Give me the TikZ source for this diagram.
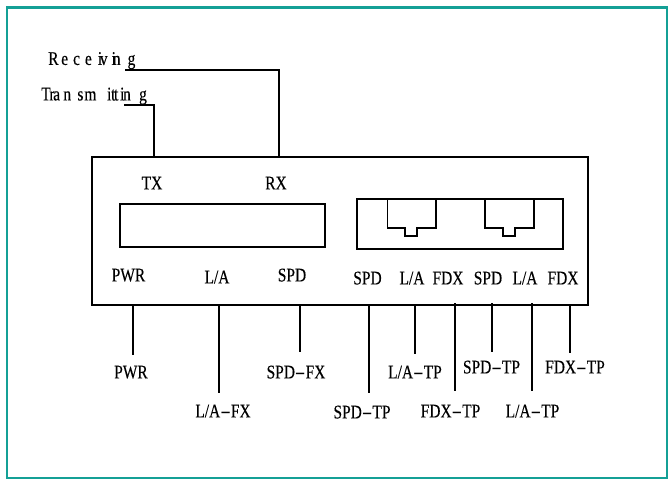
\documentclass[tikz,border=0pt]{standalone}
\usepackage{fontspec}
\setmainfont{Liberation Serif}[FakeStretch=0.8,FakeBold=0.25]
\newfontfamily\hyfont{Liberation Serif}[FakeStretch=1.65]
\newcommand{\hy}{{\hyfont-}}
\definecolor{frameteal}{RGB}{20,160,150}
\tikzset{
  ln/.style={line width=1.3pt,line join=miter},
  bx/.style={draw,ln,anchor=north west,inner sep=0pt,outer sep=0pt},
  lab/.style={inner sep=0pt,font=\fontsize{14.5}{15}\selectfont,text=black,text height=9.6pt,text depth=0pt},
}
\begin{document}
\begin{tikzpicture}[x=0.75pt,y=-0.75pt]
\useasboundingbox (0,0) rectangle (668,480);
\fill[white] (0,0) rectangle (668,480);
\draw[line width=1.7pt,color=frameteal] (7,7.5) rectangle (667,478);
% main box
\node[bx,minimum width=372pt,minimum height=111pt] (dev) at (92,157) {};
\node[bx,minimum width=153.75pt,minimum height=32.25pt] (fx) at (120,204) {};
\node[bx,minimum width=154.5pt,minimum height=37.5pt] (tp) at (357,199) {};
% RJ45
\draw[ln] (387.5,199) -- (387.5,228) -- (405,228) -- (405,236) -- (417,236) -- (417,228) -- (436,228) -- (436,199);
\draw[ln] (485,199) -- (485,228) -- (503,228) -- (503,236) -- (515,236) -- (515,228) -- (534,228) -- (534,199);
% labels top
\node[lab] (tx) at (152,183) {TX};
\node[lab] (rx) at (276,183) {RX};
\node[lab,anchor=west] (rec) at (48,58.5) {R\kern2pt e\kern3.75pt c\kern3.75pt e\kern4.5pt i\kern-1.7pt v\kern3pt i\kern-2.3pt n\kern5.3pt g};
\node[lab,anchor=west] (trans) at (41,94) {T\kern-1pt r\kern-1pt a\kern2.5pt n\kern4.7pt s\kern.75pt m\kern8pt i\kern-.2pt t\kern-1pt t\kern1.3pt i\kern-1pt n\kern6.2pt g};
\coordinate (recEnd) at (125,70);
\coordinate (trEnd) at (124,105);
\draw[ln] (recEnd) -- (279,70) -- (279,157);
\draw[ln] (trEnd) -- (154,105) -- (154,157);
% labels in box
\node[lab] (pwr) at (128.5,275) {PWR};
\node[lab] (la1) at (217,277) {L/A};
\node[lab] (spd1) at (292,275) {SPD};
\node[lab] (s2) at (367.5,278) {SPD};
\node[lab] (l2) at (412,278) {L/A};
\node[lab] (f2) at (448,278) {FDX};
\node[lab] (s3) at (488,278) {SPD};
\node[lab] (l3) at (525,278) {L/A};
\node[lab] (f3) at (563,278) {FDX};
% outside labels
\node[lab] (oPWR) at (131,372) {PWR};
\node[lab] (oLA) at (223,411) {L/A\hy FX};
\node[lab] (oSPD) at (296,372) {SPD\hy FX};
\node[lab] (a) at (362,412) {SPD\hy TP};
\node[lab] (b) at (415,372) {L/A\hy TP};
\node[lab] (c) at (450.5,411) {FDX\hy TP};
\node[lab] (d) at (491.5,367) {SPD\hy TP};
\node[lab] (e) at (532.5,411) {L/A\hy TP};
\node[lab] (g) at (575,367) {FDX\hy TP};
% connectors
\coordinate (d1) at (133,305); \coordinate (e1) at (133,355);
\coordinate (d2) at (219,305); \coordinate (e2) at (219,393);
\coordinate (d3) at (300,305); \coordinate (e3) at (300,352);
\coordinate (d4) at (369,305); \coordinate (e4) at (369,393);
\coordinate (d5) at (415,305); \coordinate (e5) at (415,354);
\coordinate (d6) at (455,303); \coordinate (e6) at (455,391);
\coordinate (d7) at (492,303); \coordinate (e7) at (492,352);
\coordinate (d8) at (532,303); \coordinate (e8) at (532,391);
\coordinate (d9) at (570,305); \coordinate (e9) at (570,353);
\foreach \i in {1,...,9} \draw[ln] (d\i) -- (e\i);
\end{tikzpicture}
\end{document}
